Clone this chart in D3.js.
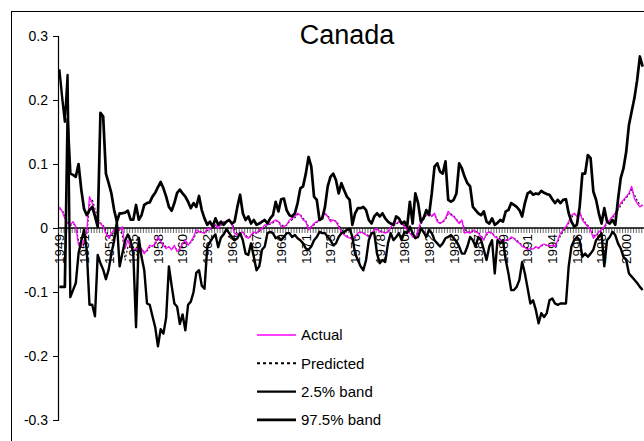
<!DOCTYPE html>
<html>
<head>
<meta charset="utf-8">
<script src="https://cdnjs.cloudflare.com/ajax/libs/d3/7.8.5/d3.min.js"></script>
<style>
body { margin:0; background:#fff; }
svg { display:block; font-family:"Liberation Sans", Arial, sans-serif; }
</style>
</head>
<body>
<div id="chart_place"></div>
<script>
// quarterly series, first quarter is 1949 Q1
var actual = [
  .033, .026, .015, .007, .005, .01, .002, -.027, -.029, -.019,
  -.006, .049, .039, .023, .01, .007, .002, -.008, -.016, -.008,
  -.003, -.001, -.003, .002, -.032, -.019, -.029, -.034, -.032, -.037,
  -.032, -.04, -.034, -.027, -.029, -.024, -.014, -.021, -.027, -.032,
  -.029, -.034, -.027, -.037, -.032, -.024, -.019, -.027, -.021, -.014,
  -.003, -.006, -.007, -.008, -.001, -.001, .002, .005, -.001, .007,
  .01, .01, .0125, .005, -.008, -.011, -.008, -.006, -.014, -.016,
  -.011, -.006, -.008, -.003, -.001, .005, .005, .007, .01, .0125,
  .01, .002, .002, .005, .0125, .015, .018, .023, .02, .0125,
  .01, -.003, .002, .007, .01, .0125, .018, .023, .018, .01,
  .0125, .01, .002, -.006, -.011, -.014, -.016, -.017, -.014, -.008,
  -.006, -.008, -.011, -.014, -.008, -.003, -.001, -.006, -.006, -.008,
  -.006, .002, .005, .007, .01, .007, .002, -.003, -.008, -.014,
  -.016, -.003, .01, .018, .02, .023, .018, .023, .01, .007,
  .01, .015, .026, .02, .018, .0125, .007, .0125, -.008, -.006,
  -.008, -.003, -.006, -.008, -.014, -.019, -.008, -.006, -.008, -.014,
  -.016, -.019, -.021, -.019, -.019, -.014, -.016, -.021, -.024, -.029,
  -.03, -.034, -.032, -.033, -.029, -.032, -.027, -.025, -.027, -.028,
  -.027, -.029, -.019, -.008, -.003, .002, .01, .02, .023, .018,
  .026, .0125, .007, .002, -.003, -.016, -.011, -.006, -.003, .002,
  .01, .0125, .018, .023, .031, .039, .044, .049, .054, .065,
  .046, .039, .033, .036
];

var predicted = [
  .03, .028, .02, .01, .004, .006, .004, -.02, -.03, -.025,
  -.012, .035, .045, .03, .015, .008, .004, -.004, -.012, -.012,
  -.006, -.002, -.004, -.01, -.05, -.03, -.026, -.03, -.034, -.035,
  -.034, -.037, -.036, -.03, -.028, -.026, -.017, -.018, -.024, -.03,
  -.03, -.032, -.03, -.034, -.034, -.027, -.021, -.024, -.023, -.017,
  -.008, -.006, -.006, -.008, -.004, -.002, 0, .003, .001, .004,
  .008, .01, .011, .008, -.002, -.009, -.009, -.007, -.011, -.015,
  -.013, -.008, -.008, -.005, -.002, .002, .004, .006, .008, .011,
  .011, .005, .003, .004, .01, .013, .016, .021, .021, .015,
  .011, .002, .001, .005, .009, .011, .016, .021, .02, .013,
  .012, .011, .005, -.002, -.008, -.012, -.015, -.016, -.015, -.01,
  -.007, -.007, -.01, -.012, -.01, -.005, -.002, -.004, -.006, -.007,
  -.006, -.001, .003, .006, .009, .008, .004, -.001, -.006, -.011,
  -.014, -.007, .005, .014, .02, .022, .02, .021, .013, .008,
  .009, .013, .022, .022, .019, .014, .009, .011, -.002, -.006,
  -.007, -.005, -.005, -.007, -.012, -.017, -.011, -.007, -.008, -.012,
  -.015, -.018, -.02, -.02, -.019, -.016, -.016, -.019, -.023, -.027,
  -.029, -.032, -.033, -.032, -.03, -.031, -.028, -.026, -.027, -.028,
  -.027, -.028, -.022, -.012, -.005, 0, .007, .016, .022, .02,
  .023, .016, .009, .004, -.001, -.011, -.012, -.008, -.004, 0,
  .007, .011, .016, .021, .028, .035, .042, .047, .052, .06,
  .052, .043, .036, .035
];

var band025 = [
  .248, .205, .166, .239, -.108, -.097, -.086, -.04, -.02, -.003,
  -.035, -.12, -.12, -.138, -.042, -.055, -.065, -.08, -.065, -.04,
  -.02, .01, -.06, -.04, -.02, -.01, -.02, -.04, -.155, -.015,
  -.045, -.066, -.118, -.12, -.138, -.155, -.185, -.158, -.165, -.14,
  -.06, -.09, -.118, -.123, -.15, -.135, -.16, -.12, -.115, -.1,
  -.07, -.066, -.09, -.095, -.03, -.022, -.015, -.01, -.03, -.015,
  -.01, -.002, -.008, -.014, -.019, -.016, -.008, -.019, -.04, -.042,
  -.024, -.045, -.066, -.06, -.034, -.029, -.008, -.006, -.008, -.016,
  -.014, -.019, -.014, -.008, -.008, -.014, -.011, -.016, -.019, -.024,
  -.032, -.034, -.029, -.019, -.014, -.006, -.008, -.008, -.014, -.019,
  -.027, -.024, -.014, -.008, -.006, -.003, -.001, -.014, -.04, -.05,
  -.06, -.066, -.05, -.019, -.008, -.008, -.04, -.055, -.05, -.053,
  -.024, -.008, -.019, -.014, -.008, -.019, -.006, -.008, .002, -.008,
  -.016, -.014, -.001, -.006, -.014, -.003, -.008, -.019, -.024, -.029,
  -.024, -.016, -.014, -.011, -.016, -.021, -.029, -.04, -.04, -.029,
  -.014, -.019, -.029, -.014, -.019, -.034, -.05, -.029, -.019, -.071,
  -.019, -.024, -.019, -.05, -.071, -.097, -.097, -.092, -.081, -.053,
  -.071, -.094, -.118, -.113, -.128, -.149, -.133, -.139, -.133, -.113,
  -.11, -.118, -.12, -.118, -.118, -.118, -.06, -.029, -.019, -.014,
  -.019, -.045, -.04, -.045, -.04, -.034, -.019, -.014, -.008, -.06,
  -.019, -.014, -.006, -.011, -.024, -.032, -.045, -.05, -.071, -.076,
  -.081, -.086, -.092, -.097
];

var band975 = [
  -.092, -.092, -.092, .17, .085, .083, .08, .10, .06, .03,
  .02, .028, .033, .018, .002, .18, .174, .085, .07, .054,
  .028, .01, .023, .023, .024, .027, .013, .013, .036, .013,
  .02, .036, .039, .04, .049, .055, .064, .072, .062, .049,
  .033, .027, .039, .055, .06, .054, .049, .041, .031, .039,
  .033, .05, .028, .015, .005, .01, .002, .015, .005, .01,
  .005, .01, .0125, .007, .01, .033, .052, .023, .0125, .018,
  .007, .0125, .005, .007, .01, .0125, .007, .015, .02, .041,
  .026, .045, .046, .028, .02, .018, .023, .039, .062, .065,
  .085, .111, .096, .049, .044, .0125, .015, .033, .065, .08,
  .085, .075, .054, .07, .059, .049, .044, .005, .023, .031,
  .031, .033, .028, .0125, .007, .018, .023, .018, .023, .015,
  .01, .007, .005, .018, .015, .007, .01, .002, .041, .007,
  .054, .039, .01, .015, .028, .02, .054, .096, .101, .088,
  .085, .104, .044, .041, .044, .054, .101, .093, .08, .07,
  .065, .033, .028, .023, .02, .026, .01, .007, .015, .005,
  .008, .0125, .01, .026, .028, .039, .036, .033, .028, .018,
  .039, .054, .057, .052, .054, .053, .058, .055, .053, .052,
  .045, .039, .044, .039, .044, .045, .023, .01, .002, .005,
  .033, .085, .085, .114, .109, .057, .044, .023, .007, .031,
  .01, .007, .0125, .005, .044, .078, .093, .119, .161, .182,
  .203, .231, .268, .252
];

// one label every 9 quarters
var tickYears = ["1949","1951","1953","1955","1958","1960","1962","1964","1967","1969","1971","1973",
                 "1976","1978","1980","1982","1985","1987","1989","1991","1994","1996","1998","2000"];
var tickEvery = 9;
var yTicks = [0.3, 0.2, 0.1, 0, -0.1, -0.2, -0.3];

var legendItems = [
  {name: "Actual", color: "#ff00ff", width: 1.3, dash: null},
  {name: "Predicted", color: "#000", width: 1.1, dash: "2,2"},
  {name: "2.5% band", color: "#000", width: 2.4, dash: null},
  {name: "97.5% band", color: "#000", width: 2.7, dash: null}
];

var W = 644, H = 441;
var plotLeft = 58, plotRight = 644, plotTop = 36, plotBottom = 420;
var n = actual.length;

var svg = d3.select("#chart_place").append("svg")
    .attr("width", W).attr("height", H);

// chart frame
svg.append("rect")
  .attr("x", 11.5).attr("y", 11.5).attr("width", 660).attr("height", 460)
  .attr("fill", "none").attr("stroke", "#000").attr("stroke-width", 1);

var x = d3.scaleBand().domain(d3.range(n)).range([plotLeft, plotRight]).padding(0);
var xEdge = d3.scaleLinear().domain([0, n]).range([plotLeft, plotRight]);
var y = d3.scaleLinear().domain([-0.3, 0.3]).range([plotBottom, plotTop]);

// y axis, plain hyphen for negatives like the original
var yAxis = svg.append("g")
  .attr("transform", "translate(" + plotLeft + ",0)")
  .call(d3.axisLeft(y).tickValues(yTicks).tickSize(5).tickPadding(5)
        .tickFormat(function(d){ return d === 0 ? "0" : (d < 0 ? "-" : "") + Math.abs(d).toFixed(1); }));
yAxis.select(".domain").attr("stroke-width", 1.2);
yAxis.selectAll("text").attr("font-size", 14).attr("fill", "#000")
  .attr("font-family", "Liberation Sans, Arial, sans-serif");

// category ticks on the zero line
var xTicks = svg.append("g")
  .attr("transform", "translate(0," + y(0) + ")")
  .call(d3.axisBottom(xEdge).tickValues(d3.range(n + 1)).tickSize(5).tickFormat(""));
xTicks.selectAll(".tick line").attr("stroke", "#444").attr("stroke-width", 0.8);
xTicks.select(".domain").remove();

var xLabels = svg.append("g")
  .attr("transform", "translate(0," + y(0) + ")")
  .call(d3.axisBottom(x)
        .tickValues(d3.range(0, n, tickEvery))
        .tickSize(0)
        .tickFormat(function(d){ return tickYears[d / tickEvery]; }));
xLabels.select(".domain").remove();
xLabels.selectAll("text")
  .attr("font-size", 13.5).attr("fill", "#000")
  .attr("font-family", "Liberation Sans, Arial, sans-serif")
  .attr("transform", "rotate(-90)")
  .attr("text-anchor", "end")
  .attr("x", -6).attr("y", 0).attr("dy", "0.36em");

svg.append("line")
  .attr("x1", plotLeft).attr("x2", plotRight + 10)
  .attr("y1", y(0)).attr("y2", y(0))
  .attr("stroke", "#000").attr("stroke-width", 1.6);

// series
var line = d3.line()
  .x(function(d, i){ return x(i) + x.bandwidth() / 2; })
  .y(function(d){ return y(d); });

var series = [actual, predicted, band025, band975];
// predicted goes under the magenta line
[1, 0, 2, 3].forEach(function(k){
  var it = legendItems[k];
  svg.append("path")
    .datum(series[k])
    .attr("d", line)
    .attr("fill", "none")
    .attr("stroke", it.color)
    .attr("stroke-width", it.width)
    .attr("stroke-dasharray", it.dash)
    .attr("stroke-linejoin", "round");
});

// title
svg.append("text")
  .attr("x", 347).attr("y", 44)
  .attr("text-anchor", "middle")
  .attr("font-size", 27)
  .text("Canada");

// legend
var lg = svg.append("g").attr("transform", "translate(257,335)");
legendItems.forEach(function(it, k){
  var row = lg.append("g").attr("transform", "translate(0," + (k * 28.3) + ")");
  row.append("line")
    .attr("x1", 0).attr("x2", 39).attr("y1", 0).attr("y2", 0)
    .attr("stroke", it.color)
    .attr("stroke-width", it.dash ? 2 : (k === 0 ? 1.5 : it.width))
    .attr("stroke-dasharray", it.dash ? "3,3" : null);
  row.append("text")
    .attr("x", 44).attr("y", 0).attr("dy", "0.36em")
    .attr("font-size", 15)
    .text(it.name);
});
</script>
</body>
</html>
